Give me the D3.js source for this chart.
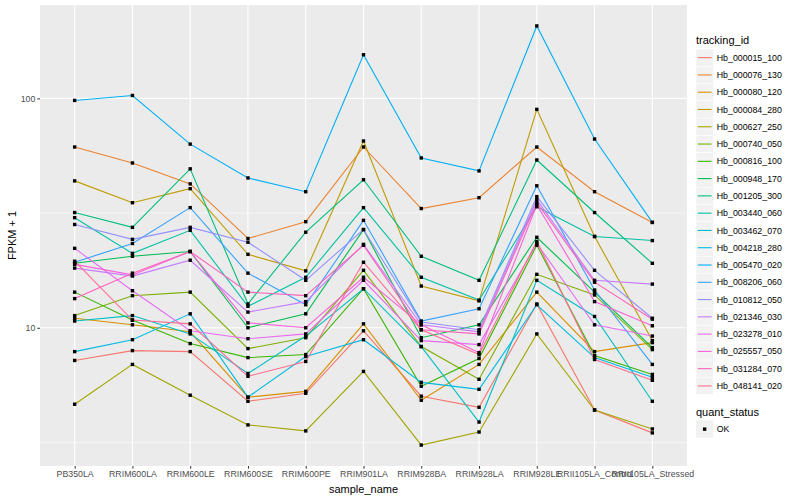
<!DOCTYPE html>
<html>
<head>
<meta charset="utf-8">
<script src="https://cdn.jsdelivr.net/npm/d3@7/dist/d3.min.js"></script>
<style>
body { margin: 0; background: #fff; }
text { font-family: "Liberation Sans", Arial, sans-serif; }
</style>
</head>
<body>
<script>
var samples = ["PB350LA", "RRIM600LA", "RRIM600LE", "RRIM600SE", "RRIM600PE", "RRIM901LA",
    "RRIM928BA", "RRIM928LA", "RRIM928LE", "RRII105LA_Control", "RRII105LA_Stressed"];

var trackingIds = ["Hb_000015_100", "Hb_000076_130", "Hb_000080_120", "Hb_000084_280", "Hb_000627_250",
    "Hb_000740_050", "Hb_000816_100", "Hb_000948_170", "Hb_001205_300", "Hb_003440_060",
    "Hb_003462_070", "Hb_004218_280", "Hb_005470_020", "Hb_008206_060", "Hb_010812_050",
    "Hb_021346_030", "Hb_023278_010", "Hb_025557_050", "Hb_031284_070", "Hb_048141_020"];

// FPKM + 1, one row per tracking_id, one column per sample
var fpkm = [
    [7.20, 7.95, 7.87, 4.78, 5.18, 9.7, 5.03, 4.50, 12.7, 4.38, 3.48],
    [61.4, 52.3, 42.4, 24.5, 29.0, 61.4, 33.1, 36.9, 61.4, 39.2, 28.8],
    [11.0, 10.3, 9.6, 4.98, 5.28, 10.4, 4.83, 6.92, 14.3, 7.87, 8.61],
    [43.7, 35.1, 40.4, 20.9, 17.7, 65.2, 15.2, 13.1, 89.6, 25.0, 8.79],
    [4.64, 6.92, 5.08, 3.77, 3.55, 6.45, 3.08, 3.51, 9.4, 4.38, 3.62],
    [11.3, 13.8, 14.3, 8.11, 9.05, 17.8, 8.28, 5.96, 17.1, 13.9, 8.03],
    [14.3, 10.8, 8.53, 7.41, 7.64, 14.8, 5.56, 7.34, 22.9, 7.56, 6.26],
    [19.1, 20.5, 21.5, 10.0, 11.5, 26.8, 9.05, 10.3, 24.8, 14.3, 8.19],
    [31.8, 27.4, 49.3, 12.7, 26.1, 44.2, 20.5, 16.1, 53.9, 31.8, 19.1],
    [30.2, 21.1, 26.6, 12.4, 16.6, 33.4, 16.6, 13.2, 33.7, 25.0, 24.0],
    [10.7, 11.3, 9.4, 6.32, 9.2, 14.8, 8.28, 3.88, 16.1, 11.2, 4.78],
    [7.87, 8.87, 11.5, 4.98, 7.49, 8.87, 5.78, 5.39, 12.6, 7.41, 6.08],
    [98, 103, 63.2, 45.0, 39.2, 155, 55.0, 48.3, 207, 66.5, 28.8],
    [19.3, 23.3, 33.4, 17.3, 12.6, 29.4, 10.7, 12.1, 41.6, 14.6, 6.92],
    [28.2, 24.3, 27.4, 23.6, 16.1, 26.8, 10.6, 9.8, 37.3, 17.8, 11.0],
    [18.2, 16.8, 19.7, 11.7, 13.0, 23.1, 10.3, 9.6, 36.2, 16.1, 15.5],
    [22.2, 14.5, 9.7, 8.96, 9.4, 16.1, 8.79, 8.44, 23.3, 10.3, 9.2],
    [18.9, 17.0, 21.5, 10.5, 10.0, 16.6, 10.3, 7.79, 34.4, 13.0, 10.2],
    [13.4, 17.3, 21.5, 14.3, 13.8, 22.9, 9.8, 9.4, 35.1, 15.8, 10.9],
    [19.5, 10.8, 10.4, 6.14, 7.13, 19.3, 9.8, 7.64, 23.8, 7.27, 5.90]
];

var quantStatus = ["OK"];
var yMajor = [10, 100];
var yMinor = [Math.sqrt(10), Math.pow(10, 1.5)];

var palette = ["#F8766D", "#EA8331", "#D89000", "#C09B00", "#A3A500", "#7CAE00", "#39B600", "#00BB4E",
    "#00BF7D", "#00C1A3", "#00BFC4", "#00BAE0", "#00B0F6", "#35A2FF", "#9590FF", "#C77CFF",
    "#E76BF3", "#FA62DB", "#FF62BC", "#FF6C91"];

var w = 800;
var h = 500;
var pLeft = 40, pRight = 687, pTop = 5, pBottom = 466;

var svg = d3.select("body").append("svg").attr("width", w).attr("height", h);

// scales (log axis padded 5% like ggplot)
var x = d3.scalePoint().domain(samples).range([pLeft, pRight]).padding(0.6);
var allVals = d3.merge(fpkm);
var lo = Math.log10(d3.min(allVals)), hi = Math.log10(d3.max(allVals));
var pad = (hi - lo) * 0.05;
var y = d3.scaleLog().domain([Math.pow(10, lo - pad), Math.pow(10, hi + pad)]).range([pBottom, pTop]);
var color = d3.scaleOrdinal().domain(trackingIds).range(palette);

// panel + grid
svg.append("rect").attr("x", pLeft).attr("y", pTop).attr("width", pRight - pLeft).attr("height", pBottom - pTop)
    .attr("fill", "#EBEBEB");
svg.selectAll(".minor").data(yMinor).enter().append("line").attr("class", "minor")
    .attr("x1", pLeft).attr("x2", pRight).attr("y1", d => y(d)).attr("y2", d => y(d))
    .attr("stroke", "#fff").attr("stroke-width", 0.55);
svg.selectAll(".majory").data(yMajor).enter().append("line").attr("class", "majory")
    .attr("x1", pLeft).attr("x2", pRight).attr("y1", d => y(d)).attr("y2", d => y(d))
    .attr("stroke", "#fff").attr("stroke-width", 1.1);
svg.selectAll(".majorx").data(samples).enter().append("line").attr("class", "majorx")
    .attr("x1", d => x(d)).attr("x2", d => x(d)).attr("y1", pTop).attr("y2", pBottom)
    .attr("stroke", "#fff").attr("stroke-width", 1.1);

// lines
var line = d3.line().x((d, i) => x(samples[i])).y(d => y(d));
svg.selectAll(".series").data(fpkm).enter().append("path").attr("class", "series")
    .attr("d", line)
    .attr("fill", "none")
    .attr("stroke", (d, i) => color(trackingIds[i]))
    .attr("stroke-width", 1.1);

// points
var pts = [];
fpkm.forEach(function (row) {
    row.forEach(function (v, j) { pts.push({ s: samples[j], v: v }); });
});
svg.selectAll(".point").data(pts).enter().append("rect").attr("class", "point")
    .attr("x", d => x(d.s) - 1.7).attr("y", d => y(d.v) - 1.7)
    .attr("width", 3.4).attr("height", 3.4).attr("fill", "#000");

// axes
var yAxis = d3.axisLeft(y).tickValues(yMajor).tickFormat(d3.format("d")).tickSize(2.7).tickPadding(2);
var xAxis = d3.axisBottom(x).tickSize(2.7).tickPadding(2.5);
var gy = svg.append("g").attr("transform", "translate(" + pLeft + ",0)").call(yAxis);
var gx = svg.append("g").attr("transform", "translate(0," + pBottom + ")").call(xAxis);
[gx, gy].forEach(function (g) {
    g.select(".domain").remove();
    g.selectAll(".tick line").attr("stroke", "#333333");
    g.selectAll(".tick text").attr("fill", "#4D4D4D").attr("font-size", "8.8px")
        .style("font-family", "'Liberation Sans', Arial, sans-serif");
});

// axis titles
svg.append("text").attr("x", (pLeft + pRight) / 2).attr("y", 493).attr("text-anchor", "middle")
    .attr("font-size", "11px").text("sample_name");
svg.append("text").attr("transform", "translate(16," + (pTop + pBottom) / 2 + ") rotate(-90)")
    .attr("text-anchor", "middle").attr("font-size", "11px").text("FPKM + 1");

// legend: tracking_id
var lx = 696, keySize = 17.28, firstKey = 49;
svg.append("text").attr("x", lx).attr("y", 44).attr("font-size", "11px").text("tracking_id");
var leg = svg.selectAll(".legend").data(trackingIds).enter().append("g").attr("class", "legend")
    .attr("transform", (d, i) => "translate(" + lx + "," + (firstKey + i * keySize) + ")");
leg.append("rect").attr("width", keySize).attr("height", keySize).attr("fill", "#F2F2F2")
    .attr("stroke", "#fff").attr("stroke-width", 0.5);
leg.append("line").attr("x1", 1.7).attr("x2", keySize - 1.7).attr("y1", keySize / 2).attr("y2", keySize / 2)
    .attr("stroke", d => color(d)).attr("stroke-width", 1.1);
leg.append("text").attr("x", keySize + 3.5).attr("y", keySize / 2).attr("dy", "0.35em")
    .attr("font-size", "8.8px").text(d => d);

// legend: quant_status
svg.append("text").attr("x", lx).attr("y", 416).attr("font-size", "11px").text("quant_status");
var leg2 = svg.selectAll(".legend2").data(quantStatus).enter().append("g").attr("class", "legend2")
    .attr("transform", (d, i) => "translate(" + lx + "," + (420.5 + i * keySize) + ")");
leg2.append("rect").attr("width", keySize).attr("height", keySize).attr("fill", "#F2F2F2");
leg2.append("rect").attr("x", keySize / 2 - 1.7).attr("y", keySize / 2 - 1.7)
    .attr("width", 3.4).attr("height", 3.4).attr("fill", "#000");
leg2.append("text").attr("x", keySize + 3.5).attr("y", keySize / 2).attr("dy", "0.35em")
    .attr("font-size", "8.8px").text(d => d);
</script>
</body>
</html>
